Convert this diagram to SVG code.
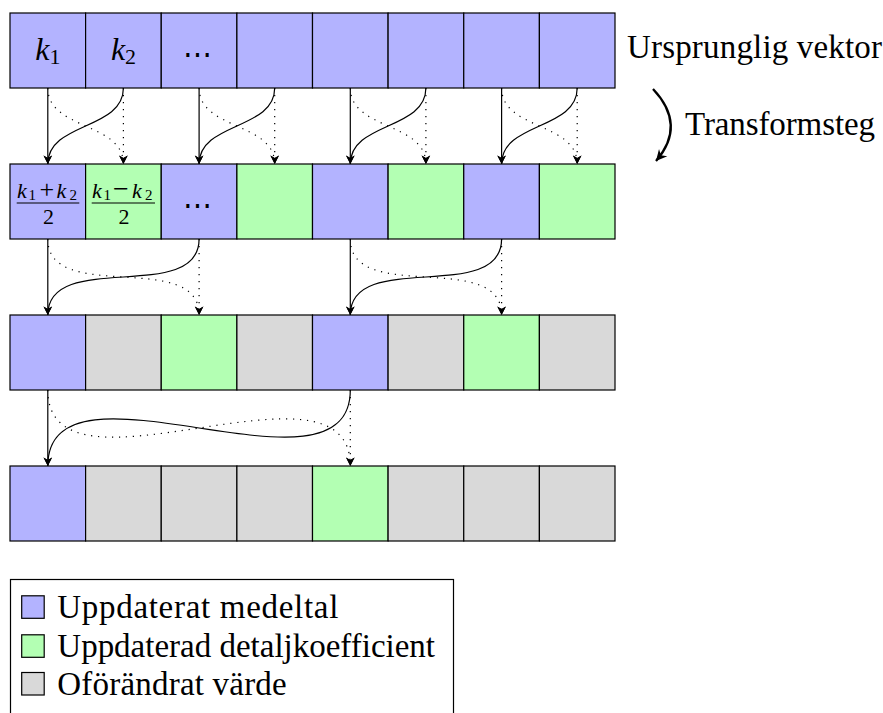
<svg xmlns="http://www.w3.org/2000/svg" width="883" height="713" viewBox="0 0 883 713">
<style>
.c{stroke:#000;stroke-width:1.2}
.b{fill:#b3b3ff}
.g{fill:#b3ffb3}
.n{fill:#d9d9d9}
.s{fill:none;stroke:#000;stroke-width:1.2}
.d{fill:none;stroke:#000;stroke-width:1.2;stroke-dasharray:1.2 5.8}
</style>
<defs>
<marker id="ah" markerUnits="userSpaceOnUse" viewBox="-9 -5 10 10" refX="0" refY="0" markerWidth="10" markerHeight="10" orient="auto">
<path d="M0,0 L-8.5,-4.3 L-6,0 L-8.5,4.3 Z" fill="#000"/>
</marker>
<marker id="ah2" markerUnits="userSpaceOnUse" viewBox="-13 -7 14 14" refX="0" refY="0" markerWidth="14" markerHeight="14" orient="auto">
<path d="M0,0 L-11,-5.5 L-7.5,0 L-11,5.5 Z" fill="#000"/>
</marker>
</defs>

<g id="row1">
<g id="r1c1"><rect class="c b" x="10" y="13" width="75.6" height="75"/><text x="35.3" y="60" font-family="Liberation Serif" style="font-family:'Liberation Serif',serif;font-style:italic" font-size="32">k<tspan style="font-style:normal" font-size="22" dy="3.5">1</tspan></text></g>
<g id="r1c2"><rect class="c b" x="85.6" y="13" width="75.65" height="75"/><text x="110.9" y="60" font-family="Liberation Serif" style="font-family:'Liberation Serif',serif;font-style:italic" font-size="32">k<tspan style="font-style:normal" font-size="22" dy="3.5">2</tspan></text></g>
<g id="r1c3"><rect class="c b" x="161.25" y="13" width="75.65" height="75"/><text x="197" y="64" font-family="DejaVu Serif" style="font-family:'DejaVu Serif',serif" font-size="29" text-anchor="middle">⋯</text></g>
<g id="r1c4"><rect class="c b" x="236.9" y="13" width="75.6" height="75"/></g>
<g id="r1c5"><rect class="c b" x="312.5" y="13" width="75.6" height="75"/></g>
<g id="r1c6"><rect class="c b" x="388.1" y="13" width="75.65" height="75"/></g>
<g id="r1c7"><rect class="c b" x="463.75" y="13" width="75.65" height="75"/></g>
<g id="r1c8"><rect class="c b" x="539.4" y="13" width="75.6" height="75"/></g>
</g>

<g id="row2">
<g id="r2c1"><rect class="c b" x="10" y="164" width="75.6" height="75"/>
<text y="197.5" font-family="Liberation Serif" style="font-family:'Liberation Serif',serif;font-style:italic" font-size="22"><tspan x="17">k</tspan><tspan x="28.5" dy="2.3" style="font-style:normal" font-size="15">1</tspan><tspan x="39.5" dy="-2.3" style="font-style:normal" font-size="26">+</tspan><tspan x="56.5" font-size="22">k</tspan><tspan x="69.5" dy="2.3" style="font-style:normal" font-size="15">2</tspan></text>
<line x1="16.7" y1="203" x2="79.3" y2="203" stroke="#000" stroke-width="1.2"/>
<text x="48.5" y="223.5" font-family="Liberation Serif" style="font-family:'Liberation Serif',serif" font-size="22" text-anchor="middle">2</text></g>
<g id="r2c2"><rect class="c g" x="85.6" y="164" width="75.65" height="75"/>
<text y="197.5" font-family="Liberation Serif" style="font-family:'Liberation Serif',serif;font-style:italic" font-size="22"><tspan x="92">k</tspan><tspan x="103.5" dy="2.3" style="font-style:normal" font-size="15">1</tspan><tspan x="113" dy="-2.3" style="font-style:normal" font-size="28">−</tspan><tspan x="132" font-size="22">k</tspan><tspan x="145" dy="2.3" style="font-style:normal" font-size="15">2</tspan></text>
<line x1="91.7" y1="203" x2="155" y2="203" stroke="#000" stroke-width="1.2"/>
<text x="124" y="223.5" font-family="Liberation Serif" style="font-family:'Liberation Serif',serif" font-size="22" text-anchor="middle">2</text></g>
<g id="r2c3"><rect class="c b" x="161.25" y="164" width="75.65" height="75"/><text x="197" y="215" font-family="DejaVu Serif" style="font-family:'DejaVu Serif',serif" font-size="29" text-anchor="middle">⋯</text></g>
<g id="r2c4"><rect class="c g" x="236.9" y="164" width="75.6" height="75"/></g>
<g id="r2c5"><rect class="c b" x="312.5" y="164" width="75.6" height="75"/></g>
<g id="r2c6"><rect class="c g" x="388.1" y="164" width="75.65" height="75"/></g>
<g id="r2c7"><rect class="c b" x="463.75" y="164" width="75.65" height="75"/></g>
<g id="r2c8"><rect class="c g" x="539.4" y="164" width="75.6" height="75"/></g>
</g>

<g id="row3">
<g id="r3c1"><rect class="c b" x="10" y="315" width="75.6" height="75"/></g>
<g id="r3c2"><rect class="c n" x="85.6" y="315" width="75.65" height="75"/></g>
<g id="r3c3"><rect class="c g" x="161.25" y="315" width="75.65" height="75"/></g>
<g id="r3c4"><rect class="c n" x="236.9" y="315" width="75.6" height="75"/></g>
<g id="r3c5"><rect class="c b" x="312.5" y="315" width="75.6" height="75"/></g>
<g id="r3c6"><rect class="c n" x="388.1" y="315" width="75.65" height="75"/></g>
<g id="r3c7"><rect class="c g" x="463.75" y="315" width="75.65" height="75"/></g>
<g id="r3c8"><rect class="c n" x="539.4" y="315" width="75.6" height="75"/></g>
</g>

<g id="row4">
<g id="r4c1"><rect class="c b" x="10" y="466" width="75.6" height="75"/></g>
<g id="r4c2"><rect class="c n" x="85.6" y="466" width="75.65" height="75"/></g>
<g id="r4c3"><rect class="c n" x="161.25" y="466" width="75.65" height="75"/></g>
<g id="r4c4"><rect class="c n" x="236.9" y="466" width="75.6" height="75"/></g>
<g id="r4c5"><rect class="c g" x="312.5" y="466" width="75.6" height="75"/></g>
<g id="r4c6"><rect class="c n" x="388.1" y="466" width="75.65" height="75"/></g>
<g id="r4c7"><rect class="c n" x="463.75" y="466" width="75.65" height="75"/></g>
<g id="r4c8"><rect class="c n" x="539.4" y="466" width="75.6" height="75"/></g>
</g>

<g id="connectors" marker-end="url(#ah)">
<path class="s" d="M47.8,88 V164"/>
<path class="s" d="M123.4,88 C123.4,130 47.8,122 47.8,164"/>
<path class="d" d="M47.8,88 C47.8,130 123.4,122 123.4,164"/>
<path class="d" d="M123.4,88 V164"/>
<path class="s" d="M199.1,88 V164"/>
<path class="s" d="M274.7,88 C274.7,130 199.1,122 199.1,164"/>
<path class="d" d="M199.1,88 C199.1,130 274.7,122 274.7,164"/>
<path class="d" d="M274.7,88 V164"/>
<path class="s" d="M350.3,88 V164"/>
<path class="s" d="M425.9,88 C425.9,130 350.3,122 350.3,164"/>
<path class="d" d="M350.3,88 C350.3,130 425.9,122 425.9,164"/>
<path class="d" d="M425.9,88 V164"/>
<path class="s" d="M501.6,88 V164"/>
<path class="s" d="M577.2,88 C577.2,130 501.6,122 501.6,164"/>
<path class="d" d="M501.6,88 C501.6,130 577.2,122 577.2,164"/>
<path class="d" d="M577.2,88 V164"/>

<path class="s" d="M47.8,239 V315"/>
<path class="s" d="M199.1,239 C199.1,305.3 47.8,248.7 47.8,315"/>
<path class="d" d="M47.8,239 C47.8,305.3 199.1,248.7 199.1,315"/>
<path class="d" d="M199.1,239 V315"/>
<path class="s" d="M350.3,239 V315"/>
<path class="s" d="M501.6,239 C501.6,305.3 350.3,248.7 350.3,315"/>
<path class="d" d="M350.3,239 C350.3,305.3 501.6,248.7 501.6,315"/>
<path class="d" d="M501.6,239 V315"/>

<path class="s" d="M47.8,390 V466"/>
<path class="s" d="M350.3,390 C350.3,512 47.8,344 47.8,466"/>
<path class="d" d="M47.8,390 C47.8,512 350.3,344 350.3,466"/>
<path class="d" d="M350.3,390 V466"/>
</g>

<g id="labels">
<text x="627" y="58.3" font-family="Liberation Serif" style="font-family:'Liberation Serif',serif" font-size="33" textLength="255">Ursprunglig vektor</text>
<path id="transform-arrow" d="M653,89 Q687,125 656,161" fill="none" stroke="#000" stroke-width="2.3" marker-end="url(#ah2)"/>
<text x="685" y="135" font-family="Liberation Serif" style="font-family:'Liberation Serif',serif" font-size="33" textLength="190">Transformsteg</text>
</g>

<g id="legend">
<rect x="10.5" y="579.5" width="443" height="200" fill="#fff" stroke="#000" stroke-width="1.2"/>
<rect class="c b" x="21.7" y="595.8" width="22.5" height="22.5"/>
<text x="57.3" y="618.3" font-family="Liberation Serif" style="font-family:'Liberation Serif',serif" font-size="33" textLength="281">Uppdaterat medeltal</text>
<rect class="c g" x="21.7" y="634.8" width="22.5" height="22.5"/>
<text x="57.3" y="657.3" font-family="Liberation Serif" style="font-family:'Liberation Serif',serif" font-size="33" textLength="377.7">Uppdaterad detaljkoefficient</text>
<rect class="c n" x="21.7" y="672.5" width="22.5" height="22.5"/>
<text x="57.3" y="695" font-family="Liberation Serif" style="font-family:'Liberation Serif',serif" font-size="33" textLength="229.4">Oförändrat värde</text>
</g>
</svg>
